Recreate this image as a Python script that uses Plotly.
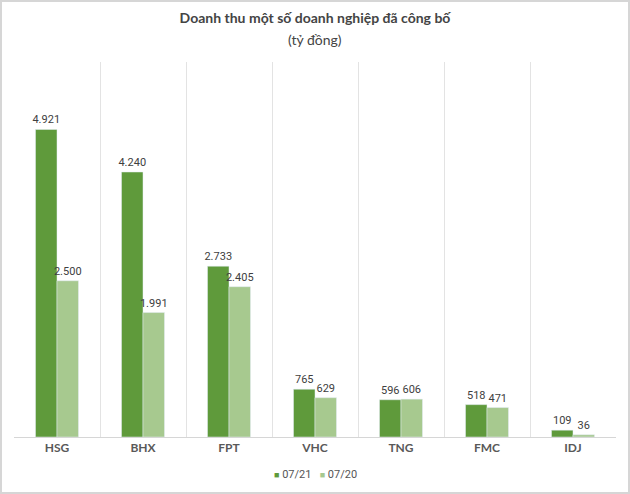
import plotly.graph_objects as go

# Doanh thu (tỷ đồng)
companies = ["HSG", "BHX", "FPT", "VHC", "TNG", "FMC", "IDJ"]
rev_0721 = [4921, 4240, 2733, 765, 596, 518, 109]
rev_0720 = [2500, 1991, 2405, 629, 606, 471, 36]
labels_0721 = ["4.921", "4.240", "2.733", "765", "596", "518", "109"]
labels_0720 = ["2.500", "1.991", "2.405", "629", "606", "471", "36"]
series_names = ["07/21", "07/20"]

dark = "#5f9a3b"
light = "#a7c98f"
font_fam = "Lato, Open Sans, sans-serif"
label_font = "Roboto, sans-serif"

fig = go.Figure()
fig.add_trace(go.Bar(x=companies, y=rev_0721, name=series_names[0], marker_color=dark,
                     text=labels_0721, textposition="outside", cliponaxis=False,
                     textfont=dict(size=11, color="#404040", family=label_font)))
fig.add_trace(go.Bar(x=companies, y=rev_0720, name=series_names[1], marker_color=light,
                     text=labels_0720, textposition="outside", cliponaxis=False,
                     textfont=dict(size=11, color="#404040", family=label_font)))

# light grey frame around the whole picture
fig.add_shape(type="rect", xref="paper", yref="paper",
              x0=-0.0216, x1=1.0216, y0=-0.149, y1=1.1627,
              line=dict(color="#d6d6d6", width=2), layer="below")

# subtitle (unit) under the title
fig.add_annotation(text="(tỷ đồng)", xref="paper", yref="paper", x=0.5, y=1.0587,
                   xanchor="center", yanchor="middle", showarrow=False,
                   font=dict(size=14, color="#444444", family=font_fam))

# compact legend like the original (small squares close to the text)
legend_txt = (f"<span style='color:{dark};font-size:9px'>■</span> {series_names[0]}"
              f"&nbsp;&nbsp;&nbsp;<span style='color:{light};font-size:9px'>■</span> {series_names[1]}")
fig.add_annotation(text=legend_txt, xref="paper", yref="paper", x=0.5, y=-0.099,
                   xanchor="center", yanchor="middle", showarrow=False,
                   font=dict(size=11, color="#555555", family=label_font))

fig.update_layout(
    width=630, height=494,
    margin=dict(l=14, r=14, t=62, b=57),
    paper_bgcolor="white", plot_bgcolor="white",
    barmode="group", bargap=0.5, bargroupgap=0,
    uniformtext=dict(mode="show", minsize=11),
    showlegend=False,
    font=dict(family=font_fam, color="#404040"),
    title=dict(text="<b>Doanh thu một số doanh nghiệp đã công bố</b>",
               x=0.5, xanchor="center", y=0.9636, yanchor="middle",
               font=dict(size=14, color="#444444")),
    xaxis=dict(type="category", tickson="boundaries", showgrid=True, gridcolor="#e3e3e3",
               gridwidth=1, ticks="", showline=True, linecolor="#d6d6d6", automargin=False,
               tickfont=dict(size=12, color="#595959", family=font_fam), range=[-0.5, 6.5]),
    yaxis=dict(range=[0, 6000], showgrid=False, showticklabels=False, zeroline=False,
               ticks="", automargin=False),
)
fig.update_xaxes(tickvals=companies, ticktext=["<b>" + c + "</b>" for c in companies])

# remove the default page margin so the figure sits at the window corner
fig.write_html("out.html", config={"displayModeBar": False},
               post_script="document.body.style.margin='0';")
